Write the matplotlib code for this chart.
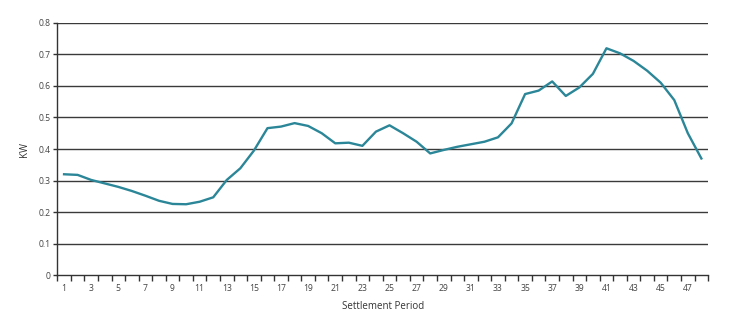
import matplotlib
matplotlib.use("Agg")
import matplotlib.pyplot as plt
from matplotlib.ticker import FixedLocator, FuncFormatter

periods = list(range(1, 49))
kw = [0.320, 0.318, 0.302, 0.291, 0.280, 0.267, 0.252, 0.236, 0.226, 0.225,
      0.233, 0.247, 0.302, 0.339, 0.395, 0.466, 0.471, 0.482, 0.473, 0.450,
      0.418, 0.420, 0.410, 0.455, 0.475, 0.450, 0.423, 0.386, 0.397, 0.407,
      0.415, 0.423, 0.437, 0.481, 0.574, 0.585, 0.614, 0.568, 0.595, 0.638,
      0.719, 0.703, 0.679, 0.648, 0.610, 0.555, 0.450, 0.370]
x_labels = list(range(1, 49, 2))
y_ticks = [0, 0.1, 0.2, 0.3, 0.4, 0.5, 0.6, 0.7, 0.8]

plt.rcParams['font.family'] = ['Open Sans', 'DejaVu Sans']

fig = plt.figure(figsize=(7.47, 3.32), dpi=100)
ax = fig.add_axes([0.0767, 0.1708, 0.948 - 0.0767, 0.9316 - 0.1708])

for yv in y_ticks[1:]:
    ax.axhline(yv, color='#3a3a3a', lw=1.0, zorder=1)

ax.plot(periods, kw, color='#2b8698', lw=1.7, zorder=3, solid_joinstyle='round')

ax.set_xlim(0.5, 48.5)
ax.set_ylim(0, 0.8)

ax.xaxis.set_major_locator(FixedLocator(x_labels))
ax.xaxis.set_minor_locator(FixedLocator([p + 0.5 for p in range(0, 49)]))
ax.tick_params(axis='x', which='major', length=0, labelsize=6.2, labelcolor='#444444', pad=6)
ax.tick_params(axis='x', which='minor', length=4, width=1, color='#333333', direction='out')

ax.yaxis.set_major_locator(FixedLocator(y_ticks))
ax.yaxis.set_major_formatter(FuncFormatter(lambda v, p: '0' if v == 0 else f'{v:.1f}'))
ax.tick_params(axis='y', length=3, width=1, color='#333333', labelsize=6.2, labelcolor='#444444', pad=2)

for s in ['top', 'right']:
    ax.spines[s].set_visible(False)
for s in ['left', 'bottom']:
    ax.spines[s].set_color('#333333')
    ax.spines[s].set_linewidth(1.0)

ax.set_xlabel('Settlement Period', fontsize=7, color='#333333', labelpad=6)
ax.set_ylabel('KW', fontsize=7, color='#333333', labelpad=6)

fig.savefig('out.png', dpi=100, facecolor='white')
